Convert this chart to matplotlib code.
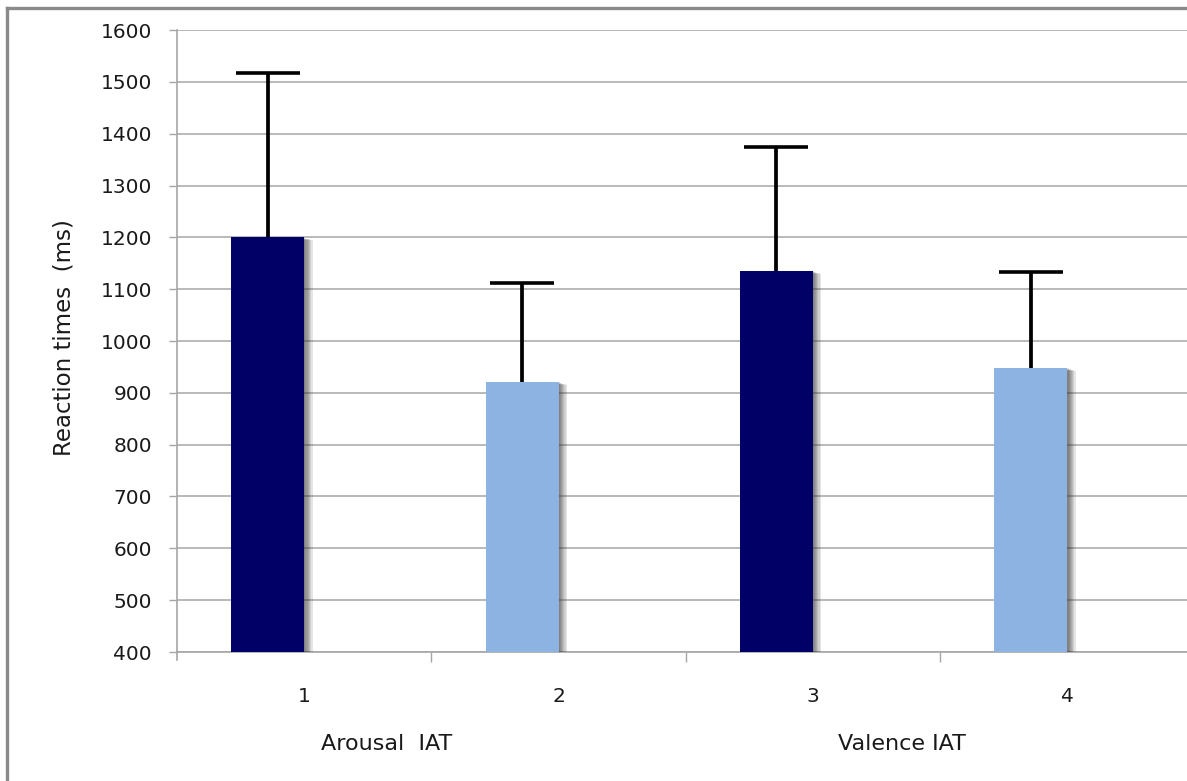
import matplotlib
matplotlib.use("Agg")
import matplotlib.pyplot as plt
import matplotlib.patheffects as pe
from matplotlib.lines import Line2D
from matplotlib.transforms import blended_transform_factory

plt.rcParams['font.family'] = ['DejaVu Sans']

# data
positions = [1, 2, 3, 4]
tick_labels = ['1', '2', '3', '4']
means = [1200, 921, 1135, 948]
err_tops = [1517, 1111, 1374, 1134]
colors = ['#000066', '#8db3e2', '#000066', '#8db3e2']
group_labels = ['Arousal  IAT', 'Valence IAT']
group_x = [1.325, 3.35]

errs = [t - m for t, m in zip(err_tops, means)]

fig = plt.figure(figsize=(11.87, 7.81), dpi=100)
ax = fig.add_axes([177 / 1187, 1 - 652 / 781, 1017.5 / 1187, 622 / 781])

width = 0.287
xs = [p - width / 2 for p in positions]

# soft shadow to the right of each bar
shadow = [pe.SimplePatchShadow(offset=(d, -0.35 * d), shadow_rgbFace='#303030', alpha=0.12)
          for d in (6.0, 5.0, 4.0, 3.2, 2.4, 1.6, 0.9)] + [pe.Normal()]

bars = ax.bar(xs, [m - 400 for m in means], width=width, bottom=400,
              color=colors, zorder=3)
for b in bars:
    b.set_path_effects(shadow)

eb = ax.errorbar(xs, means, yerr=[[0] * 4, errs], fmt='none', ecolor='black',
                 elinewidth=2.7, capsize=23, capthick=2.6, zorder=4)
# only the upper caps are drawn in the reference
eb[1][0].set_visible(False)

ax.set_xlim(0.5, 4.5)
ax.set_ylim(400, 1600)
ax.set_yticks(range(400, 1601, 100))
ax.yaxis.grid(True, color='#a6a6a6', linewidth=1.1)
ax.set_axisbelow(True)

ax.set_xticks(positions)
ax.set_xticklabels(tick_labels)
ax.set_xticks([1.5, 2.5, 3.5], minor=True)
ax.tick_params(axis='x', which='major', length=0, pad=25, labelsize=14.5, colors='#1a1a1a')
ax.tick_params(axis='x', which='minor', length=7, width=1, color='#a6a6a6')
ax.tick_params(axis='y', length=6, width=1, color='#a6a6a6', labelsize=14.5,
               labelcolor='#1a1a1a', pad=12)

for s in ['top', 'right']:
    ax.spines[s].set_visible(False)
for s in ['left', 'bottom']:
    ax.spines[s].set_color('#a6a6a6')
    ax.spines[s].set_linewidth(1.2)
ax.spines['left'].set_bounds(400 - 15, 1600)

ax.set_ylabel('Reaction times  (ms)', fontsize=16.5, color='#1a1a1a')
ax.yaxis.set_label_coords(-0.10, 0.505)

trans = blended_transform_factory(ax.transData, ax.transAxes)
for gx, gl in zip(group_x, group_labels):
    ax.text(gx, -0.148, gl, transform=trans, ha='center', va='center',
            fontsize=16, color='#1a1a1a', clip_on=False)

# outer frame (left and top edges are visible in the crop)
fig.add_artist(Line2D([7 / 1187, 7 / 1187], [0, 1 - 8 / 781], color='#8a8a8a', linewidth=2.4))
fig.add_artist(Line2D([7 / 1187, 1], [1 - 8 / 781, 1 - 8 / 781], color='#8a8a8a', linewidth=2.4))

fig.savefig('out.png', dpi=100)
